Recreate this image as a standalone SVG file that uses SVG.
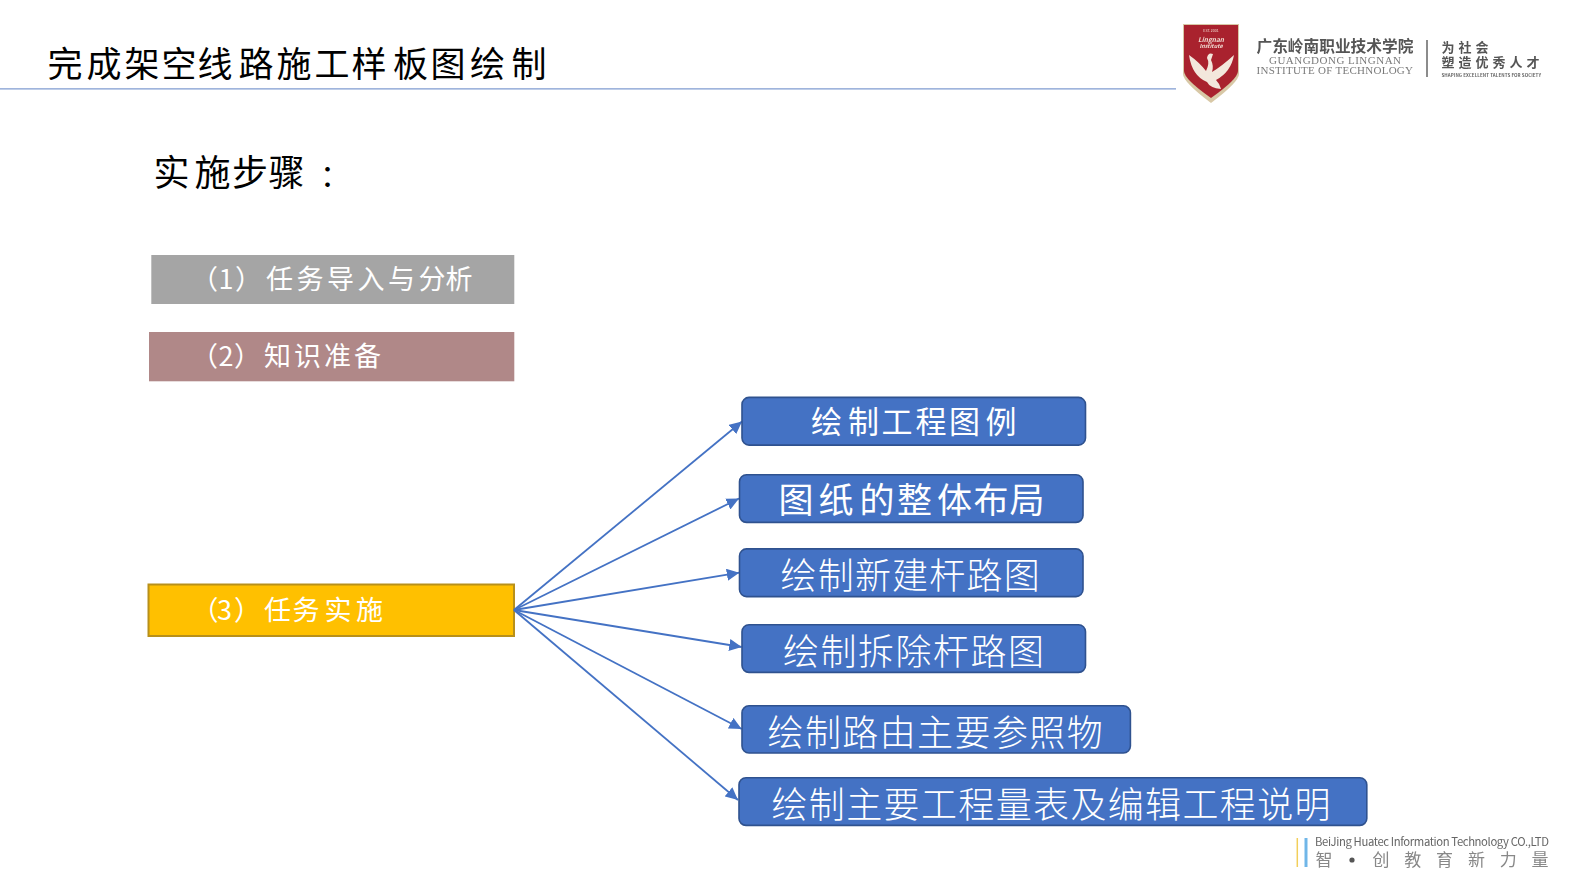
<svg xmlns="http://www.w3.org/2000/svg" width="1573" height="885" viewBox="0 0 1573 885">
<style>
text{font-family:"Noto Sans CJK SC","Noto Sans",sans-serif}
.w{fill:#fff;font-size:27px}
.blue{fill:#4472c4;stroke:#2f528f;stroke-width:1.6}
.lbl{fill:#fff}
.thin{font-size:36px;font-weight:300}
.c{stroke:#4472c4;stroke-width:1.8;fill:none;marker-end:url(#a)}
.latin{font-family:"Liberation Serif",serif;fill:#7a7a7a;font-size:11px}
.soft{filter:url(#b)}
</style>
<defs>
<marker id="a" markerUnits="userSpaceOnUse" markerWidth="13" markerHeight="12" refX="12.500" refY="6" orient="auto"><path d="M0 0L12.500 6L0 12z" fill="#4472c4"/></marker>
<filter id="b" x="-5%" y="-5%" width="110%" height="110%"><feGaussianBlur stdDeviation="0.350"/></filter>
</defs>
<rect width="1573" height="885" fill="#fff"/>
<g id="header">
<line x1="0" y1="88.800" x2="1176" y2="88.800" stroke="#7f9bd1" stroke-width="1.200"/>
<text x="47.500 86.500 124.500 161.500 197.500 238.500 276.500 314.500 351.500 393 430.500 470 511.500" y="77" font-size="35" fill="#000">完成架空线路施工样板图绘制</text>
</g>
<g id="logo" class="soft">
<path d="M1183 24H1239V74Q1239 82 1211 103Q1183 82 1183 74Z" fill="#d8c8a6"/>
<path d="M1184 25H1238V71Q1238 79 1211 98Q1184 79 1184 71Z" fill="#a9242e"/>
<path d="M1189 55Q1199 62 1206 71Q1210 63 1207 58Q1208 52 1213 54L1211 60Q1214 66 1212 72Q1222 66 1234 55Q1231 72 1216 80Q1220 84 1221 89Q1210 88 1207 82Q1192 76 1189 55Z" fill="#f3e7dc"/>
<text x="1211" y="31.500" font-size="3.500" fill="#f0d8d0" text-anchor="middle" font-family="Liberation Sans">EST. 2001</text>
<text x="1211" y="41.500" font-size="6.500" font-weight="700" font-style="italic" fill="#f0d8d0" text-anchor="middle" font-family="Liberation Sans">Lingnan</text>
<text x="1211" y="47.500" font-size="5.500" font-weight="700" font-style="italic" fill="#f0d8d0" text-anchor="middle" font-family="Liberation Sans">Institute</text>
<text x="1256.500" y="51.500" font-size="15.700" font-weight="700" fill="#555">广东岭南职业技术学院</text>
<text x="1335" y="64" class="latin" text-anchor="middle" textLength="132">GUANGDONG LINGNAN</text>
<text x="1256.500" y="74" class="latin" textLength="156.500">INSTITUTE OF TECHNOLOGY</text>
<line x1="1427" y1="40" x2="1427" y2="77" stroke="#666" stroke-width="1.500"/>
<text x="1441.500" y="52" font-size="13" font-weight="700" letter-spacing="4" fill="#555">为社会</text>
<text x="1441.500" y="67" font-size="13" font-weight="700" letter-spacing="4" fill="#555">塑造优秀人才</text>
<text x="1441.500" y="76.500" font-size="4.500" font-weight="700" fill="#666" textLength="99.500" font-family="Liberation Sans">SHAPING EXCELLENT TALENTS FOR SOCIETY</text>
</g>
<g id="heading"><text x="153.500 194.500 232 268.500" y="186" font-size="36" fill="#000">实施步骤<tspan x="320" font-size="30">：</tspan></text></g>
<g id="step1"><rect x="151.300" y="255" width="363" height="49" fill="#a5a5a5"/><text x="191 218.500 235 266 296.500 327 357.500 388 418.500" y="289" class="w">（1）任务导入与分析</text></g>
<g id="step2"><rect x="149" y="332" width="365.300" height="49.300" fill="#b08888"/><text x="191 218.500 234 264 294 324 354" y="366" class="w">（2）知识准备</text></g>
<g id="step3"><rect x="148.500" y="584.500" width="365.500" height="51.500" fill="#ffc000" stroke="#b8901a" stroke-width="2"/><text x="191.500 217 234 264 292.500 324.500 356" y="620" class="w">（3）任务实施</text></g>
<g id="connectors">
<line class="c" x1="514" y1="610" x2="742" y2="421.500"/>
<line class="c" x1="514" y1="610" x2="739" y2="498.500"/>
<line class="c" x1="514" y1="610" x2="739.300" y2="572.700"/>
<line class="c" x1="514" y1="610" x2="741.700" y2="647"/>
<line class="c" x1="514" y1="610" x2="741.700" y2="729"/>
<line class="c" x1="514" y1="610" x2="738" y2="800"/>
</g>
<g id="n1"><rect class="blue" x="742" y="397.400" width="343.500" height="47.700" rx="7"/><text class="lbl" x="811 848 881.500 915.500 949 985.500" y="433" font-size="31">绘制工程图例</text></g>
<g id="n2"><rect class="blue" x="739.500" y="474.700" width="343.500" height="47.700" rx="7"/><text class="lbl" x="778.500 818.500 859.500 897 937 973.500 1009.500" y="512.500" font-size="35">图纸的整体布局</text></g>
<g id="n3"><rect class="blue" x="739.500" y="548.900" width="343.500" height="47.700" rx="7"/><text class="lbl thin" x="780.500" y="589" letter-spacing="1.200">绘制新建杆路图</text></g>
<g id="n4"><rect class="blue" x="742" y="624.700" width="343.500" height="47.700" rx="7"/><text class="lbl thin" x="783" y="665" letter-spacing="1.500">绘制拆除杆路图</text></g>
<g id="n5"><rect class="blue" x="742" y="705.800" width="388.400" height="47.200" rx="7"/><text class="lbl thin" x="767.500" y="746" letter-spacing="1.400">绘制路由主要参照物</text></g>
<g id="n6"><rect class="blue" x="739" y="777.700" width="627.800" height="47.700" rx="7"/><text class="lbl thin" x="771.500" y="818" letter-spacing="1.360">绘制主要工程量表及编辑工程说明</text></g>
<g id="footer" class="soft">
<line x1="1297.300" y1="838" x2="1297.300" y2="867" stroke="#f2cf5a" stroke-width="1.500"/>
<line x1="1306" y1="838" x2="1306" y2="867" stroke="#6fb6e8" stroke-width="3"/>
<text x="1315" y="846" font-size="11.300" fill="#666" textLength="234" font-family="Noto Sans,sans-serif">BeiJing Huatec Information Technology CO.,LTD</text>
<text x="1315.500" y="866" font-size="17" fill="#888">智</text>
<circle cx="1352" cy="860" r="2.600" fill="#555"/>
<text x="1372.500" y="866" font-size="17" fill="#888" letter-spacing="14.800">创教育新力量</text>
</g>
</svg>
